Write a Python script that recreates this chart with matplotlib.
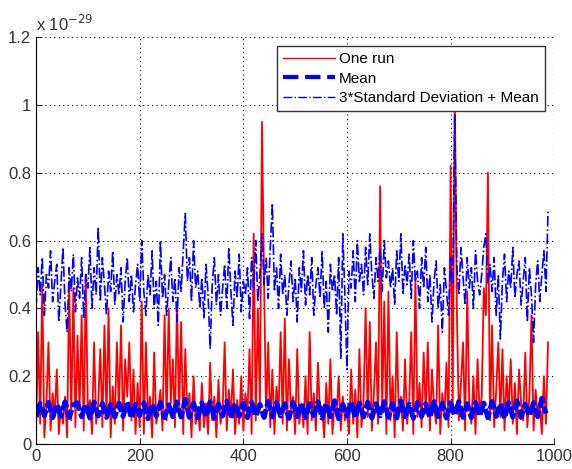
import numpy as np
import matplotlib
matplotlib.use('Agg')
import matplotlib.pyplot as plt
from matplotlib.ticker import FuncFormatter

# values, in units of 0.01 x 1e-29
# one run (sampled every 4th index)
one_run = [
    3, 33, 6, 47, 2, 12, 30, 4, 15, 8,
    22, 3, 11, 6, 14, 2, 48, 7, 46, 5,
    32, 10, 38, 4, 50, 9, 13, 3, 30, 6,
    12, 28, 5, 35, 8, 40, 2, 17, 6, 30,
    10, 35, 4, 25, 14, 30, 7, 22, 3, 18,
    5, 42, 3, 30, 8, 14, 2, 27, 6, 10,
    16, 4, 38, 7, 40, 12, 25, 5, 42, 9,
    36, 3, 28, 8, 15, 2, 20, 6, 11, 4,
    18, 5, 12, 3, 24, 7, 14, 2, 19, 6,
    10, 30, 4, 16, 8, 22, 3, 13, 6, 20,
    4, 15, 9, 28, 3, 62, 7, 40, 12, 95,
    48, 8, 30, 5, 22, 3, 17, 9, 33, 6,
    37, 4, 25, 10, 14, 3, 28, 6, 12, 5,
    20, 3, 33, 7, 15, 4, 24, 9, 11, 2,
    18, 6, 25, 3, 12, 8, 20, 4, 14, 7,
    10, 3, 22, 6, 16, 2, 28, 5, 13, 40,
    8, 36, 4, 15, 30, 6, 76, 10, 42, 3,
    45, 7, 20, 2, 33, 9, 14, 4, 25, 6,
    12, 33, 3, 50, 8, 18, 5, 27, 9, 30,
    4, 22, 11, 6, 35, 3, 15, 8, 24, 5,
    82, 10, 103, 40, 7, 18, 30, 4, 45, 12,
    6, 20, 3, 25, 9, 14, 46, 38, 80, 7,
    35, 5, 16, 30, 8, 28, 4, 20, 10, 25,
    6, 18, 3, 22, 12, 7, 27, 5, 14, 38,
    4, 16, 8, 12, 3, 20, 6, 30,
]

# 3*std + mean (sampled every 4th index)
std3_mean = [
    40, 52, 44, 55, 38, 50, 46, 57, 42, 48,
    53, 36, 47, 58, 41, 33, 52, 45, 56, 39,
    49, 43, 55, 37, 50, 46, 58, 40, 52, 44,
    64, 42, 55, 47, 38, 51, 45, 57, 41, 50,
    44, 52, 36, 48, 55, 42, 50, 39, 47, 53,
    42, 60, 45, 38, 50, 44, 57, 40, 48, 35,
    60, 43, 50, 38, 47, 55, 42, 49, 36, 52,
    45, 57, 68, 48, 55, 42, 60, 46, 51, 40,
    49, 37, 53, 44, 28, 47, 55, 41, 50, 38,
    46, 53, 40, 58, 45, 35, 51, 43, 56, 39,
    48, 44, 52, 37, 55, 46, 60, 42, 50, 62,
    47, 55, 43, 58, 71, 45, 52, 40, 56, 44,
    50, 38, 47, 54, 42, 49, 36, 52, 45, 57,
    41, 50, 44, 55, 38, 47, 52, 43, 57, 40,
    48, 33, 53, 45, 50, 38, 55, 25, 62, 44,
    22, 51, 46, 57, 42, 60, 48, 53, 44, 58,
    47, 62, 50, 43, 55, 48, 58, 45, 60, 49,
    54, 46, 52, 41, 57, 48, 62, 44, 53, 47,
    56, 43, 60, 48, 51, 40, 55, 46, 58, 42,
    50, 36, 48, 54, 40, 47, 33, 52, 45, 38,
    55, 47, 97, 52, 44, 58, 49, 41, 55, 46,
    52, 40, 57, 48, 44, 50, 58, 62, 47, 53,
    45, 55, 38, 50, 31, 48, 56, 42, 51, 46,
    58, 43, 50, 54, 41, 48, 55, 36, 52, 44,
    30, 47, 54, 42, 50, 57, 45, 69,
]

# mean (sampled every 8th index)
mean_vals = [
    8.0, 12.0, 8.4, 12.3, 7.8, 11.8, 8.2, 12.5, 7.9, 11.6,
    12.2, 8.1, 11.9, 7.7, 12.4, 8.3, 12.0, 7.9, 11.7, 8.0,
    12.1, 8.2, 12.6, 7.6, 11.8, 8.4, 12.2, 7.5, 11.9, 8.3,
    12.3, 7.8, 11.6, 8.1, 12.4, 8.0, 13.2, 7.9, 12.1, 7.8,
    12.2, 8.1, 12.5, 7.6, 11.8, 8.3, 12.6, 7.7, 12.0, 8.2,
    12.1, 7.8, 12.4, 8.2, 11.7, 7.9, 12.7, 8.0, 12.2, 8.3,
    11.9, 7.6, 12.3, 8.1, 12.2, 7.8, 11.9, 8.4, 12.5, 7.7,
    12.0, 8.1, 12.8, 7.5, 11.7, 8.3, 12.6, 7.8, 12.1, 8.0,
    12.4, 7.7, 11.9, 8.3, 12.5, 7.9, 12.0, 7.7, 12.7, 8.1,
    11.8, 7.6, 12.3, 8.2, 11.9, 7.8, 12.5, 8.1, 12.0, 7.7,
    12.2, 8.4, 12.6, 7.9, 11.9, 7.8, 12.3, 8.3, 12.1, 7.8,
    12.5, 8.2, 11.9, 7.6, 12.3, 8.0, 12.7, 7.9, 11.8, 8.3,
    12.2, 8.1, 13.5, 9.0,
]

unit = 1e-31
y_run = np.array(one_run) * unit
y_std = np.array(std3_mean) * unit
y_mean = np.array(mean_vals) * unit
x_run = np.arange(len(one_run)) * 4
x_mean = np.arange(len(mean_vals)) * 8

plt.rcParams['font.family'] = ['Liberation Sans', 'DejaVu Sans']

fig = plt.figure(figsize=(5.72, 4.69), dpi=100)
ax = fig.add_axes([0.063, 0.053, 0.906, 0.868])

ax.plot(x_run, y_run, color='#ff0000', lw=1.3, label='One run')
ax.plot(x_mean, y_mean, color='#0000ff', lw=3.6, ls=(0, (3, 0.6)), label='Mean')
ax.plot(x_run, y_std, color='#0000ff', lw=1.2, ls='-.',
        label='3*Standard Deviation + Mean')

ax.set_xlim(0, 1000)
ax.set_ylim(0, 1.2e-29)
ax.set_xticks(np.arange(0, 1001, 200))
ax.set_yticks(np.arange(0, 1.21e-29, 0.2e-29))
ax.yaxis.set_major_formatter(FuncFormatter(lambda v, p: '%g' % round(v / 1e-29, 2)))
ax.text(0.0, 1.008, r'x 10$^{-29}$', transform=ax.transAxes, fontsize=12,
        ha='left', va='bottom', color='#333333')

ax.grid(True, ls=(0, (1, 3)), color='black', lw=0.8)
ax.spines['top'].set_visible(False)
ax.spines['right'].set_visible(False)
ax.tick_params(direction='in', length=4, labelsize=12, colors='#333333')

leg = ax.legend(loc='upper right', fontsize=11, fancybox=False, framealpha=1,
                edgecolor='#333333', borderaxespad=0.6, handlelength=3.4,
                borderpad=0.4, labelspacing=0.35, handletextpad=0.3)
leg.get_frame().set_linewidth(1.0)
for h in leg.get_lines():
    h.set_linewidth(1.0)
leg.get_lines()[1].set_linewidth(3.0)
leg.get_lines()[1].set_linestyle('--')

fig.savefig('out.png', dpi=100)
